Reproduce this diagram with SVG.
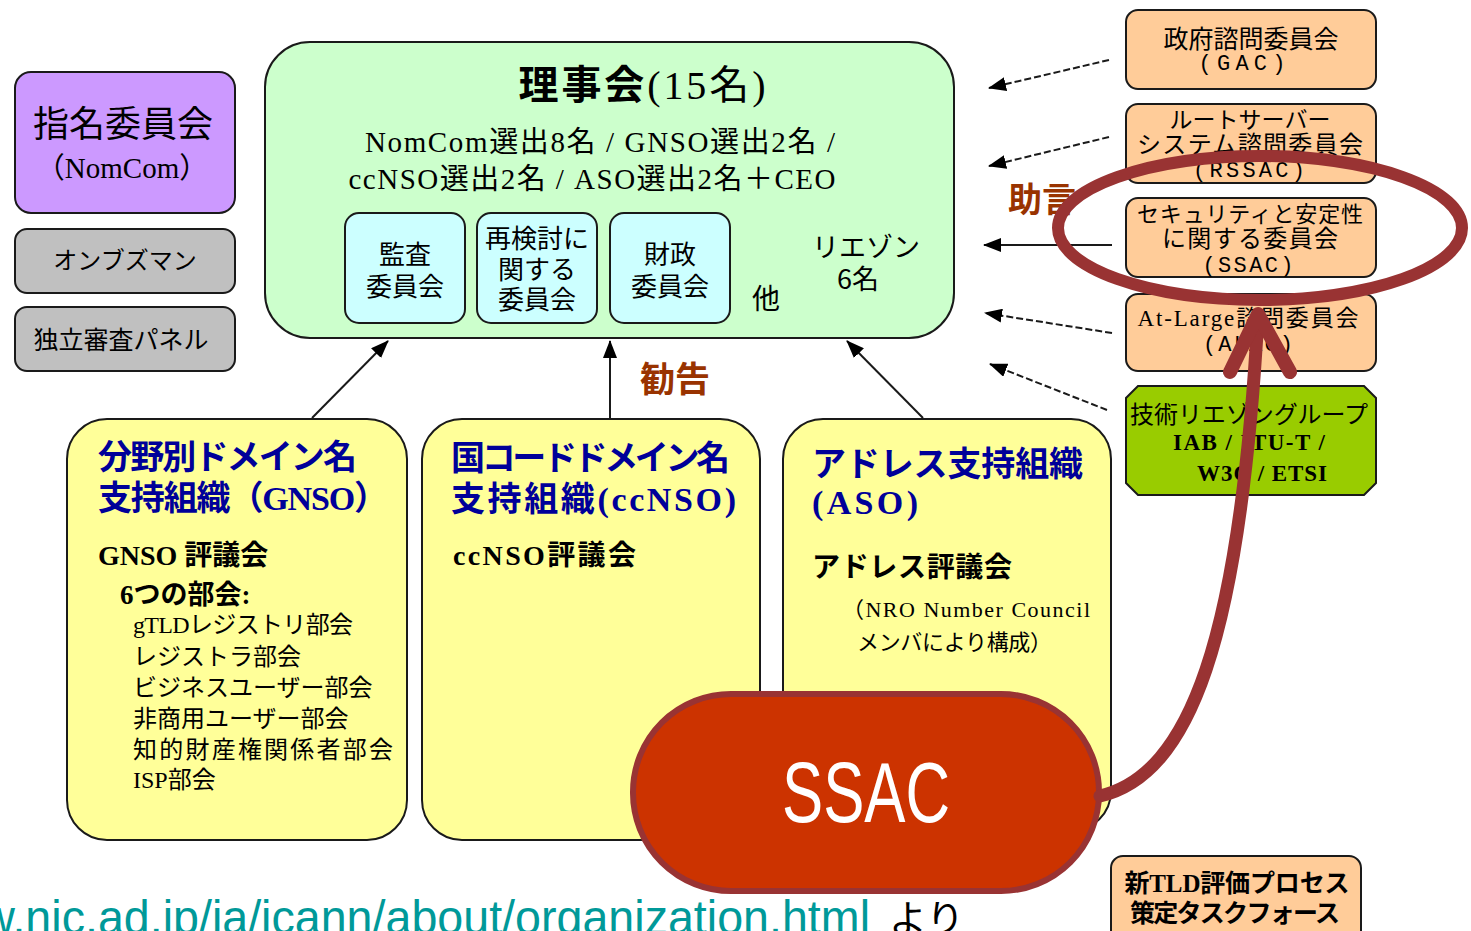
<svg xmlns="http://www.w3.org/2000/svg" width="1471" height="931" viewBox="0 0 1471 931">
<style>
.bx{stroke:#1a1a1a;stroke-width:2}
.jp{font-family:"Noto Sans CJK JP",sans-serif}
.mx{font-family:"Liberation Serif","Noto Sans CJK JP",serif}
.mo{font-family:"Liberation Mono","Noto Sans CJK JP",monospace}
.c{text-anchor:middle}
.t{fill:#000}
.blue{fill:#000099;font-weight:bold}
.lbl{fill:#993300;font-weight:bold}
.ln{stroke:#1a1a1a;stroke-width:2;fill:none}
.dash{stroke-dasharray:7 3}
.red{stroke:#993333;fill:none;stroke-linecap:round;stroke-linejoin:round}
</style>
<defs>
<marker id="ah" markerWidth="18" markerHeight="14" refX="17" refY="7" orient="auto" markerUnits="userSpaceOnUse"><path d="M0,0 L18,7 L0,14 z" fill="#000"/></marker>
</defs>
<rect width="1471" height="931" fill="#fff"/>

<g id="nomcom">
<rect class="bx" x="15" y="72" width="220" height="141" rx="16" fill="#CC99FF"/>
<text class="jp c" x="123" y="137" font-size="36">指名委員会</text>
<text class="mx c" x="122" y="178" font-size="29">（NomCom）</text>
</g>
<g id="ombudsman">
<rect class="bx" x="15" y="229" width="220" height="64" rx="12" fill="#C0C0C0"/>
<text class="jp c" x="125" y="269" font-size="24">オンブズマン</text>
</g>
<g id="irp">
<rect class="bx" x="15" y="307" width="220" height="64" rx="12" fill="#C0C0C0"/>
<text class="jp c" x="121" y="349" font-size="25">独立審査パネル</text>
</g>

<g id="board">
<rect class="bx" x="265" y="42" width="689" height="296" rx="45" fill="#CCFFCC"/>
<text class="mx c" x="642" y="99" font-size="40" textLength="247"><tspan font-weight="bold">理事会</tspan>(15名)</text>
<text class="mx c" x="600" y="152" font-size="29" textLength="470">NomCom選出8名 / GNSO選出2名 /</text>
<text class="mx c" x="592" y="189" font-size="29" textLength="487">ccNSO選出2名 / ASO選出2名＋CEO</text>
<text class="jp c" x="766" y="309" font-size="28">他</text>
<text class="jp c" x="866" y="257" font-size="27">リエゾン</text>
<text class="jp c" x="858" y="289" font-size="27">6名</text>
</g>
<g id="audit">
<rect class="bx" x="345" y="213" width="120" height="110" rx="14" fill="#CCFFFF"/>
<text class="jp c" x="405" y="264" font-size="26">監査</text>
<text class="jp c" x="405" y="296" font-size="26">委員会</text>
</g>
<g id="review">
<rect class="bx" x="477" y="213" width="120" height="110" rx="14" fill="#CCFFFF"/>
<text class="jp c" x="537" y="248" font-size="26">再検討に</text>
<text class="jp c" x="537" y="279" font-size="26">関する</text>
<text class="jp c" x="537" y="309" font-size="26">委員会</text>
</g>
<g id="finance">
<rect class="bx" x="610" y="213" width="120" height="110" rx="14" fill="#CCFFFF"/>
<text class="jp c" x="670" y="264" font-size="26">財政</text>
<text class="jp c" x="670" y="296" font-size="26">委員会</text>
</g>

<g id="gac">
<rect class="bx" x="1126" y="10" width="250" height="79" rx="12" fill="#FFCC99"/>
<text class="jp c" x="1251" y="48" font-size="25">政府諮問委員会</text>
<text class="mo c" x="1242" y="70" font-size="22" textLength="87">(GAC)</text>
</g>
<g id="rssac">
<rect class="bx" x="1126" y="104" width="250" height="79" rx="12" fill="#FFCC99"/>
<text class="jp c" x="1250" y="128" font-size="23">ルートサーバー</text>
<text class="jp c" x="1250" y="153" font-size="24" textLength="226">システム諮問委員会</text>
<text class="mo c" x="1249" y="177" font-size="22" textLength="112">(RSSAC)</text>
</g>
<g id="ssac">
<rect class="bx" x="1126" y="198" width="250" height="79" rx="12" fill="#FFCC99"/>
<text class="jp c" x="1250" y="222" font-size="22" textLength="226">セキュリティと安定性</text>
<text class="jp c" x="1250" y="247" font-size="24" textLength="176">に関する委員会</text>
<text class="mo c" x="1248" y="272" font-size="22" textLength="91">(SSAC)</text>
</g>
<g id="alac">
<rect class="bx" x="1126" y="294" width="250" height="77" rx="12" fill="#FFCC99"/>
<text class="mx c" x="1248" y="326" font-size="23" textLength="221">At-Large諮問委員会</text>
<text class="mo c" x="1248" y="351" font-size="22" textLength="90">(ALAC)</text>
</g>
<g id="tech">
<polygon class="bx" points="1138,386 1364,386 1376,398 1376,483 1364,495 1138,495 1126,483 1126,398" fill="#99CC00"/>
<text class="jp c" x="1249" y="423" font-size="24" textLength="238">技術リエゾングループ</text>
<text class="mx c" x="1249" y="450" font-size="23" font-weight="bold" textLength="152">IAB / ITU-T /</text>
<text class="mx c" x="1262" y="481" font-size="23" font-weight="bold" textLength="130">W3C / ETSI</text>
</g>
<g id="tldtf">
<rect class="bx" x="1111" y="856" width="250" height="90" rx="12" fill="#FFCC99"/>
<text class="mx c" x="1237" y="892" font-size="25" font-weight="bold" textLength="225">新TLD評価プロセス</text>
<text class="jp c" x="1235" y="922" font-size="25" font-weight="bold" textLength="210">策定タスクフォース</text>
</g>

<g id="gnso">
<rect class="bx" x="67" y="419" width="340" height="421" rx="40" fill="#FFFF99"/>
<text class="mx blue" x="98" y="469" font-size="34" textLength="259">分野別ドメイン名</text>
<text class="mx blue" x="98" y="510" font-size="34" textLength="290">支持組織（GNSO）</text>
<text class="mx t" x="98" y="565" font-size="28" font-weight="bold">GNSO 評議会</text>
<text class="mx t" x="120" y="604" font-size="27" font-weight="bold">6つの部会:</text>
<text class="mx t" x="133" y="633" font-size="24" textLength="220">gTLDレジストリ部会</text>
<text class="jp t" x="133" y="665" font-size="24">レジストラ部会</text>
<text class="jp t" x="133" y="696" font-size="24">ビジネスユーザー部会</text>
<text class="jp t" x="133" y="727" font-size="24">非商用ユーザー部会</text>
<text class="jp t" x="133" y="758" font-size="24" textLength="260">知的財産権関係者部会</text>
<text class="mx t" x="133" y="788" font-size="24">ISP部会</text>
</g>
<g id="ccnso">
<rect class="bx" x="422" y="419" width="338" height="421" rx="40" fill="#FFFF99"/>
<text class="mx blue" x="451" y="470" font-size="34" textLength="279">国コードドメイン名</text>
<text class="mx blue" x="451" y="511" font-size="34" textLength="285">支持組織(ccNSO)</text>
<text class="mx t" x="453" y="565" font-size="28" font-weight="bold" textLength="183">ccNSO評議会</text>
</g>
<g id="aso">
<rect class="bx" x="783" y="419" width="328" height="412" rx="40" fill="#FFFF99"/>
<text class="mx blue" x="812" y="476" font-size="34" textLength="271">アドレス支持組織</text>
<text class="mx blue" x="812" y="514" font-size="34" textLength="106">(ASO)</text>
<text class="jp t" x="812" y="577" font-size="28" font-weight="bold" textLength="200">アドレス評議会</text>
<text class="mx t" x="842" y="617" font-size="22" textLength="248">（NRO Number Council</text>
<text class="jp t" x="857" y="650" font-size="22" textLength="195">メンバにより構成）</text>
</g>

<g id="connectors">
<line class="ln" x1="312" y1="418" x2="388" y2="341" marker-end="url(#ah)"/>
<line class="ln" x1="610" y1="418" x2="610" y2="341" marker-end="url(#ah)"/>
<line class="ln" x1="923" y1="418" x2="847" y2="341" marker-end="url(#ah)"/>
<line class="ln dash" x1="1109" y1="60" x2="989" y2="88" marker-end="url(#ah)"/>
<line class="ln dash" x1="1109" y1="137" x2="989" y2="166" marker-end="url(#ah)"/>
<line class="ln" x1="1112" y1="245" x2="984" y2="245" marker-end="url(#ah)"/>
<line class="ln dash" x1="1112" y1="333" x2="985" y2="313" marker-end="url(#ah)"/>
<line class="ln dash" x1="1107" y1="410" x2="990" y2="364" marker-end="url(#ah)"/>
</g>

<text class="jp lbl" x="1008" y="212" font-size="34">助言</text>
<text class="jp lbl" x="640" y="392" font-size="35">勧告</text>

<g id="ssac-callout">
<rect x="633" y="694" width="466" height="197" rx="98" fill="#CC3300" stroke="#993333" stroke-width="6"/>
<text x="866" y="822" font-family="Liberation Sans, sans-serif" font-size="86" fill="#fff" text-anchor="middle" textLength="168" lengthAdjust="spacingAndGlyphs">SSAC</text>
</g>
<g id="highlight">
<ellipse class="red" cx="1260" cy="228" rx="202" ry="72" stroke-width="12"/>
<path class="red" d="M1100,796 C1190,775 1240,640 1258,316" stroke-width="13"/>
<polyline class="red" points="1230,372 1258,314 1290,372" stroke-width="14"/>
</g>

<text x="-86" y="934" font-family="Liberation Sans, sans-serif" font-size="48" fill="#009999" textLength="956" lengthAdjust="spacingAndGlyphs">www.nic.ad.jp/ja/icann/about/organization.html</text>
<text class="jp" x="889" y="932" font-size="38" fill="#000">より</text>
</svg>
